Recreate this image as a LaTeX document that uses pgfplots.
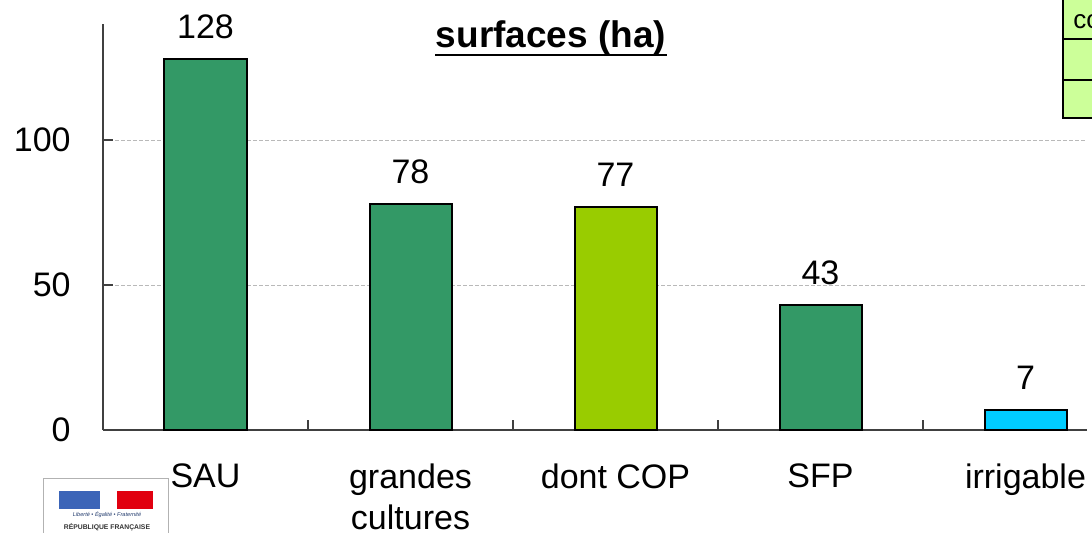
\documentclass[border=0pt]{standalone}
\usepackage{pgfplots}
\pgfplotsset{compat=1.18}
\usepackage{fontspec}
\setmainfont{Liberation Sans}
\definecolor{bargreen}{HTML}{339966}
\definecolor{copgreen}{HTML}{99CC00}
\definecolor{irrblue}{HTML}{00CCFF}
\definecolor{axisgray}{HTML}{404040}
\definecolor{tablegreen}{HTML}{CCFF99}
\definecolor{flagblue}{HTML}{3B64B8}
\definecolor{flagred}{HTML}{E1000F}
\begin{document}
\begin{tikzpicture}
\begin{axis}[
  at={(0,0)}, anchor=south west,
  scale only axis, width=492pt, height=203pt,
  /pgf/number format/assume math mode=true,
  ybar, bar width=41pt, bar shift=0pt,
  xmin=-0.5, xmax=4.3, ymin=0, ymax=140,
  clip=false,
  axis lines*=left,
  axis line style={axisgray, line width=0.8pt},
  tick align=inside,
  xtick={0,1,2,3,4},
  xticklabels={SAU, grandes\\cultures, dont COP, SFP, irrigable},
  minor xtick={0.5,1.5,2.5,3.5},
  ytick={0,50,100},
  major tick length=5pt,
  minor tick length=5pt,
  tick style={axisgray, line width=0.8pt},
  major x tick style={draw=none},
  ymajorgrids,
  grid style={gray!55, dash pattern=on 2pt off 1pt, line width=0.4pt},
  tick label style={font=\fontsize{17}{20.5}\selectfont, text=black},
  xticklabel style={anchor=north, align=center, inner sep=0pt, yshift=-16.5pt},
  yticklabel style={anchor=east, inner sep=0pt, xshift=-16pt},
  nodes near coords,
  nodes near coords style={font=\fontsize{17}{20}\selectfont, anchor=south, inner sep=0pt, yshift=9.5pt, text=black},
]
  \addplot[fill=bargreen, draw=black, line width=1pt] coordinates {(0,128) (1,78) (3,43)};
  \addplot[fill=copgreen, draw=black, line width=1pt] coordinates {(2,77)};
  \addplot[fill=irrblue, draw=black, line width=1pt] coordinates {(4,7)};
\end{axis}
% title
\node[font=\fontsize{18.5}{22}\selectfont\bfseries, anchor=base, inner sep=0pt] (t) at (224pt,191pt) {surfaces (ha)};
\draw[line width=1.2pt] ([yshift=-3.6pt]t.base west) -- ([yshift=-3.6pt]t.base east);
% table fragment, top right
\draw[fill=tablegreen, line width=1pt] (480pt,156pt) rectangle (530pt,230pt);
\draw[line width=1pt] (480pt,175pt) -- (530pt,175pt);
\draw[line width=1pt] (480pt,195.5pt) -- (530pt,195.5pt);
\node[font=\fontsize{13}{15}\selectfont, anchor=west, inner sep=0pt] at (485pt,204pt) {co};
% logo, bottom left
\draw[gray!60, line width=0.4pt, fill=white] (-30pt,-24pt) rectangle (32.5pt,-60pt);
\fill[flagblue] (-22pt,-30.5pt) rectangle (-1.5pt,-39.5pt);
\fill[flagred] (7pt,-30.5pt) rectangle (25pt,-39.5pt);
\node[font=\fontsize{2.8}{3}\selectfont\itshape, text=flagblue!60!black, inner sep=0pt] at (2pt,-42.5pt) {Liberté • Égalité • Fraternité};
\node[font=\fontsize{3.4}{4}\selectfont\bfseries, text=black!80, inner sep=0pt] at (2pt,-48.5pt) {RÉPUBLIQUE FRANÇAISE};
\pgfresetboundingbox
\useasboundingbox (-51.5pt,-51.5pt) rectangle (494.5pt,215pt);
\end{tikzpicture}
\end{document}
